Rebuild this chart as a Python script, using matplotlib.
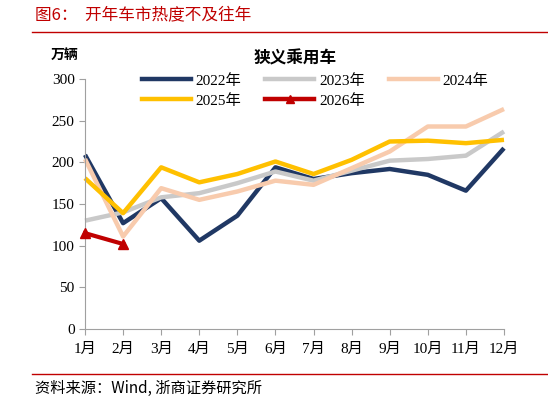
import numpy as np
import matplotlib.pyplot as plt
from matplotlib.lines import Line2D

plt.rcParams['font.family'] = ['Liberation Serif', 'Noto Sans CJK SC', 'DejaVu Sans']

months = ['1月', '2月', '3月', '4月', '5月', '6月', '7月', '8月', '9月', '10月', '11月', '12月']
y2022 = [209, 127, 157, 106, 136, 194, 180, 187, 192, 185, 166, 217]
y2023 = [130, 140, 158, 163, 175, 189, 178, 190, 202, 204, 208, 237]
y2024 = [204, 111, 169, 155, 165, 178, 173, 193, 213, 243, 243, 264]
y2025 = [181, 139, 194, 176, 186, 201, 186, 203, 225, 226, 223, 227]
y2026 = [115, 102]

series = [
    ('2022年', y2022, '#203864'),
    ('2023年', y2023, '#C9C9C9'),
    ('2024年', y2024, '#F8CBAD'),
    ('2025年', y2025, '#FFC000'),
    ('2026年', y2026, '#C00000'),
]

fig = plt.figure(figsize=(5.48, 4.03), dpi=100)
W, H = 548, 403
ax = fig.add_axes([85 / W, 1 - 329 / H, (504 - 85) / W, (329 - 79) / H])

x = np.arange(12)
handles = {}
for name, vals, col in series:
    if name == '2026年':
        h, = ax.plot(x[:len(vals)], vals, color=col, lw=3, marker='^', ms=7, clip_on=False, zorder=5)
    else:
        h, = ax.plot(x[:len(vals)], vals, color=col, lw=3.2, solid_capstyle='butt', clip_on=False)
    handles[name] = h

ax.set_xlim(0, 11)
ax.set_ylim(0, 300)
ax.set_yticks(range(0, 301, 50))
ax.set_xticks(x)
ax.set_xticklabels(months)
for s in ['top', 'right']:
    ax.spines[s].set_visible(False)
for s in ['left', 'bottom']:
    ax.spines[s].set_color('#A0A0A0')
    ax.spines[s].set_linewidth(0.8)
ax.tick_params(axis='both', colors='#A0A0A0', labelcolor='black', labelsize=11, length=4, width=0.8)
ax.tick_params(axis='x', pad=6)

# legend, row-wise order (matplotlib fills by column)
order = ['2022年', '2025年', '2023年', '2026年', '2024年']
leg_h = [Line2D([], [], color=handles[n].get_color(), lw=3.2,
                marker='^' if n == '2026年' else None, ms=6) for n in order]
fig.legend(leg_h, order, ncol=3, frameon=False,
           loc='upper left', bbox_to_anchor=(128 / W, 1 - 60 / H), fontsize=11,
           handlelength=3.2, columnspacing=1.6, handletextpad=0.3, labelspacing=0.4)

fig.text(295 / W, 1 - 58 / H, '狭义乘用车', ha='center', va='center', fontsize=12, fontweight='bold',
         family=['Noto Sans CJK SC'])
fig.text(65 / W, 1 - 55 / H, '万辆', ha='center', va='center', fontsize=10, fontweight='bold',
         family=['Noto Sans CJK SC'])

fig.text(35 / W, 1 - 15 / H, '图6：  开年车市热度不及往年', ha='left', va='center', fontsize=12,
         color='#C00000', family=['Noto Sans CJK SC'])
fig.add_artist(Line2D([32 / W, 1], [1 - 32 / H] * 2, color='#C00000', lw=1))
fig.add_artist(Line2D([32 / W, 1], [1 - 374 / H] * 2, color='#C00000', lw=1))
fig.text(35 / W, 1 - 388 / H, '资料来源：Wind, 浙商证券研究所', ha='left', va='center', fontsize=11,
         family=['Noto Sans CJK SC', 'Liberation Serif'])

fig.savefig('out.png', dpi=100)
